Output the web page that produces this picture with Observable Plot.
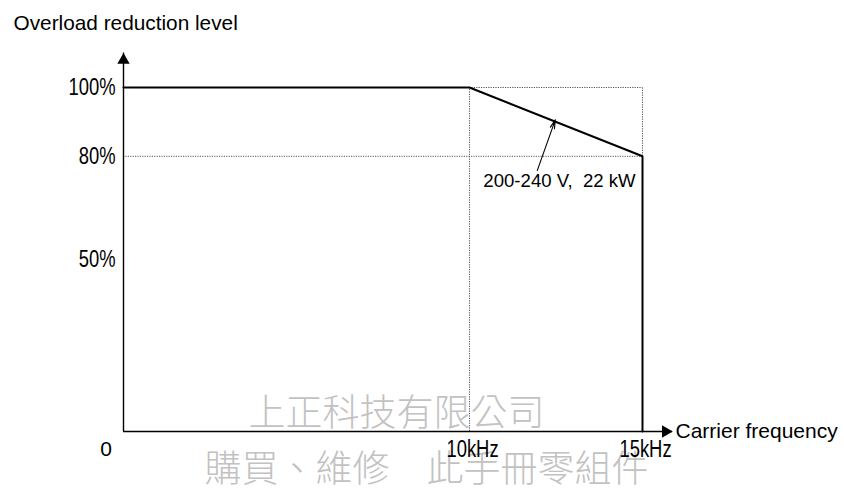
<!DOCTYPE html>
<html>
<head>
<meta charset="utf-8">
<script src="https://cdn.jsdelivr.net/npm/d3@7"></script>
<script src="https://cdn.jsdelivr.net/npm/@observablehq/plot@0.6"></script>
<style>
  html, body { margin: 0; padding: 0; background: #fff; }
  #chart svg { display: block; overflow: visible; }
</style>
</head>
<body>
<div id="chart"></div>
<script>
// ---- data ----
const carrierKHz   = [0, 10, 15, 15];      // carrier frequency (kHz)
const overloadPct  = [100, 100, 80, 0];    // overload reduction level (%)
const yTickValues  = [100, 80, 50];
const yTickLabels  = ["100%", "80%", "50%"];
const xTickValues  = [10, 15];
const xTickLabels  = ["10kHz", "15kHz"];
const originLabel  = ["0"];
const xAxisEnd     = 15.87;   // kHz, where the x-axis arrow ends
const yAxisEnd     = 110;     // %, where the y-axis arrow ends
const annotationText  = ["200-240 V,\u00a0 22 kW"];
const annotationAt    = [12.6, 72.7];          // kHz, %
const annotationArrow = [11.96, 75.9, 12.48, 90.6]; // from (kHz,%) to (kHz,%)
const titleText    = ["Overload reduction level"];
const xTitleText   = ["Carrier frequency"];
const watermark1   = ["上正科技有限公司"];
const watermark2   = ["購買、維修\u3000此手冊零組件"];

// ---- tables built from the arrays ----
const curve = carrierKHz.map((x, i) => ({x, y: overloadPct[i]}));
const yTicks = yTickValues.map((y, i) => ({y, label: yTickLabels[i]}));
const xTicks = xTickValues.map((x, i) => ({x, label: xTickLabels[i]}));

const narrow = "'Liberation Sans Narrow', 'Arial Narrow', 'Liberation Sans', Arial, sans-serif";
const sans = "'Liberation Sans', Arial, Helvetica, sans-serif";
const cjk = "'Noto Sans CJK TC', 'Noto Sans CJK SC', sans-serif";
const dotted = {stroke: "#555", strokeWidth: 1, strokeDasharray: "1.2,1.2"};

const chart = Plot.plot({
  width: 844,
  height: 489,
  marginLeft: 123,
  marginRight: 202,
  marginTop: 87,
  marginBottom: 58,
  x: {domain: [0, 15], axis: null},
  y: {domain: [0, 100], axis: null},
  style: {background: "#fff", overflow: "visible"},
  marks: [
    // watermark
    Plot.text(watermark1, {frameAnchor: "bottom", text: d => d, dx: 13.5, dy: -6, lineAnchor: "bottom",
      fontSize: 37, fontFamily: cjk, fontWeight: 300, fill: "#c2c2c2"}),
    Plot.text(watermark2, {frameAnchor: "bottom", text: d => d, dx: 43.5, dy: 50, lineAnchor: "bottom",
      fontSize: 37, fontFamily: cjk, fontWeight: 300, fill: "#c2c2c2"}),
    // dotted reference lines
    Plot.ruleY([80], {x1: 0, x2: 15, ...dotted}),
    Plot.ruleY([100], {x1: 10, x2: 15, ...dotted}),
    Plot.ruleX([10], {y1: 0, y2: 100, ...dotted}),
    Plot.ruleX([15], {y1: 80, y2: 100, ...dotted}),
    // axes
    Plot.ruleY([0], {x1: 0, x2: xAxisEnd, stroke: "#000", strokeWidth: 1.4}),
    Plot.ruleX([0], {y1: 0, y2: yAxisEnd, stroke: "#000", strokeWidth: 1.4}),
    Plot.dot([[xAxisEnd, 0]], {x: d => d[0], y: d => d[1], symbol: "triangle", r: 4.6, rotate: 90,
      dx: -7, fill: "#000", stroke: "none"}),
    Plot.dot([[0, yAxisEnd]], {x: d => d[0], y: d => d[1], symbol: "triangle", r: 4.6,
      dy: 7, fill: "#000", stroke: "none"}),
    // the curve
    Plot.line(curve, {x: "x", y: "y", stroke: "#000", strokeWidth: 2, strokeLinejoin: "miter"}),
    // tick labels (condensed)
    Plot.text(yTicks, {x: 0, y: "y", text: "label", textAnchor: "end", dx: -8, lineAnchor: "middle",
      fontSize: 23, fontFamily: narrow, fill: "#000", className: "narrow"}),
    Plot.text(xTicks, {x: "x", y: 0, text: "label", textAnchor: "middle", dx: 3, dy: 25, lineAnchor: "bottom",
      fontSize: 23, fontFamily: narrow, fill: "#000", className: "narrow"}),
    Plot.text(originLabel, {frameAnchor: "bottom-left", text: d => d, dx: -17.5, dy: 24, lineAnchor: "bottom",
      textAnchor: "middle", fontSize: 21, fontFamily: sans, fill: "#000"}),
    // axis titles
    Plot.text(titleText, {frameAnchor: "top-left", text: d => d, dx: -110, dy: -58, lineAnchor: "bottom",
      textAnchor: "start", fontSize: 20.8, fontFamily: sans, fill: "#000"}),
    Plot.text(xTitleText, {frameAnchor: "bottom-right", text: d => d, dx: 33, dy: 6, lineAnchor: "bottom",
      textAnchor: "start", fontSize: 21, fontFamily: sans, fill: "#000"}),
    // annotation
    Plot.arrow([annotationArrow], {x1: d => d[0], y1: d => d[1], x2: d => d[2], y2: d => d[3],
      stroke: "#000", strokeWidth: 1.1, headLength: 12, headAngle: 28}),
    Plot.text(annotationText, {x: annotationAt[0], y: annotationAt[1], text: d => d, textAnchor: "middle",
      lineAnchor: "middle", fontSize: 18.6, fontFamily: sans, fill: "#000"})
  ]
});
document.getElementById("chart").appendChild(chart);

// condense the tick labels like the reference's narrow face
chart.querySelectorAll(".narrow text, text.narrow").forEach(t => {
  const fam = getComputedStyle(t).fontFamily || "";
  const w = t.getComputedTextLength();
  if (w > 0) {
    t.setAttribute("textLength", (w * 0.8).toFixed(1));
    t.setAttribute("lengthAdjust", "spacingAndGlyphs");
  }
});
</script>
</body>
</html>
